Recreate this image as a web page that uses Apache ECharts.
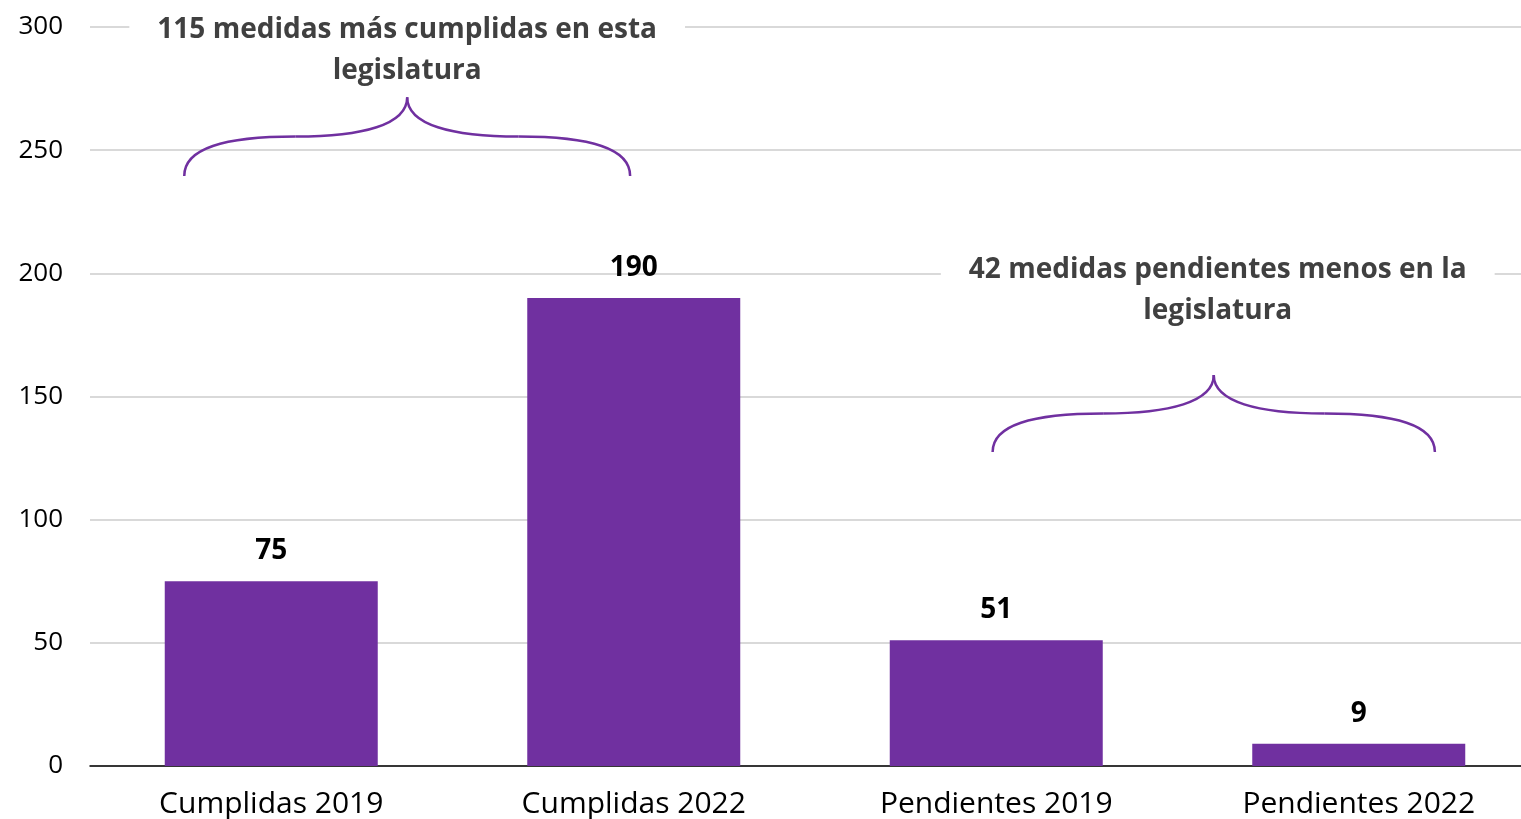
<!DOCTYPE html>
<html>
<head>
<meta charset="utf-8">
<script src="https://cdn.jsdelivr.net/npm/echarts@6/dist/echarts.min.js"></script>
<style>
  html, body { margin: 0; padding: 0; background: #fff; }
  #chart { width: 1521px; height: 819px; }
</style>
</head>
<body>
<div id="chart"></div>
<script>
const categories = ['Cumplidas 2019', 'Cumplidas 2022', 'Pendientes 2019', 'Pendientes 2022'];
const medidas = [75, 190, 51, 9];
const yMin = 0, yMax = 300, yStep = 50;
const noteTexts = [
  '115 medidas más cumplidas en esta\nlegislatura',
  '42 medidas pendientes menos en la\nlegislatura'
];

const FONT = '"Open Sans"';
const PURPLE = '#7030A0';

const chart = echarts.init(document.getElementById('chart'));

chart.setOption({
  animation: false,
  grid: { left: 90, width: 1450, top: 27, bottom: 53, containLabel: false, outerBoundsMode: 'none' },
  xAxis: {
    type: 'category',
    data: categories,
    axisLine: { lineStyle: { color: '#000', width: 1.5 } },
    axisTick: { show: false },
    axisLabel: { color: '#000', fontSize: 30, fontFamily: FONT, margin: 23 }
  },
  yAxis: {
    type: 'value',
    min: yMin, max: yMax, interval: yStep,
    axisLine: { show: false },
    axisTick: { show: false },
    axisLabel: { color: '#000', fontSize: 26, fontFamily: FONT, margin: 27 },
    splitLine: { lineStyle: { color: '#d9d9d9', width: 2 } }
  },
  series: [{
    type: 'bar',
    data: medidas,
    barWidth: 213,
    itemStyle: { color: PURPLE },
    label: {
      show: true, position: 'top', distance: 16,
      color: '#000', fontSize: 28, fontWeight: 'bold', fontFamily: FONT
    }
  }]
});

// annotations: brace span in category units, y in axis values
const braces = [
  { from: -0.24, to: 0.99, base: 239.5, peak: 271.5, textAt: 290.5 },
  { from: 1.99, to: 3.21, base: 127.5, peak: 158.7, textAt: 193 }
];

function drawNotes() {
  const c0 = chart.convertToPixel({ xAxisIndex: 0 }, 0);
  const c1 = chart.convertToPixel({ xAxisIndex: 0 }, 1);
  const xPix = p => c0 + p * (c1 - c0);
  const yPix = v => chart.convertToPixel({ yAxisIndex: 0 }, v);
  const els = [];
  const line = { stroke: PURPLE, lineWidth: 2.5, fill: null };

  braces.forEach((b, i) => {
    const xl = xPix(b.from), xr = xPix(b.to), xm = (xl + xr) / 2;
    const yb = yPix(b.base), yp = yPix(b.peak), ys = (yb + yp) / 2;
    const q = (xm - xl) / 2;
    const segs = [
      [xl, yb, xl, yb - (yb - ys) * 0.7, xl + q * 0.35, ys, xl + q, ys],
      [xl + q, ys, xl + q * 1.6, ys, xm, ys - (ys - yp) * 0.3, xm, yp],
      [xr, yb, xr, yb - (yb - ys) * 0.7, xr - q * 0.35, ys, xr - q, ys],
      [xr - q, ys, xr - q * 1.6, ys, xm, ys - (ys - yp) * 0.3, xm, yp]
    ];
    segs.forEach(s => els.push({
      type: 'bezierCurve',
      shape: { x1: s[0], y1: s[1], cpx1: s[2], cpy1: s[3], cpx2: s[4], cpy2: s[5], x2: s[6], y2: s[7] },
      style: line
    }));
    els.push({
      type: 'text',
      x: xm + (i === 1 ? 4 : 0), y: yPix(b.textAt),
      style: {
        text: noteTexts[i],
        fill: '#404040',
        font: 'bold 28px ' + FONT,
        lineHeight: 41,
        align: 'center',
        verticalAlign: 'middle',
        backgroundColor: '#fff',
        padding: [0, 28]
      }
    });
  });
  chart.setOption({ graphic: els });
}
drawNotes();
</script>
</body>
</html>
